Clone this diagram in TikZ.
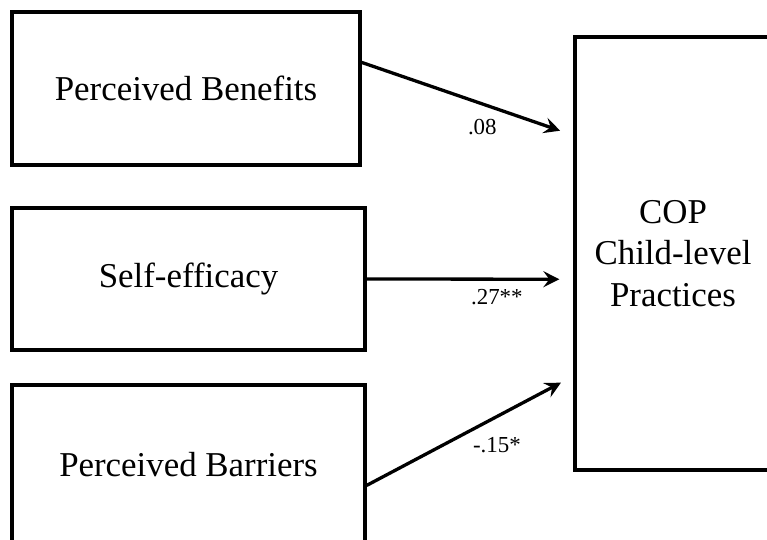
\documentclass[tikz,border=0pt]{standalone}
\usepackage{fontspec}
\setmainfont{Liberation Serif}
\usetikzlibrary{arrows.meta,calc}
\begin{document}
\begin{tikzpicture}[x=1bp, y=-1bp, line width=3.3bp,
  box/.style={draw, rectangle, inner sep=0pt, align=center, font=\fontsize{35}{42}\selectfont},
  link/.style={-{Stealth[length=16bp,width=16bp,inset=6bp]}, shorten >=14bp},
  coef/.style={font=\fontsize{23}{27}\selectfont}]
  \path[use as bounding box, clip] (0,0) rectangle (767,540);
  % predictor boxes
  \node[box, minimum width=348bp, minimum height=153bp] (ben) at (186,88.5) {Perceived Benefits};
  \node[box, minimum width=353bp, minimum height=142bp] (eff) at (188.5,279) {Self-efficacy};
  \node[box, minimum width=353bp, minimum height=160bp] (bar) at (188.5,465) {Perceived Barriers};
  % outcome box
  \node[box, minimum width=196bp, minimum height=433bp] (cop) at (673,253.5) {COP\\Child-level\\Practices};
  % paths with coefficients
  \foreach \a/\s/\t/\l/\p/\d in {ben/.333/.229/.08/.57/-23, eff/.5/.559/.27**/.63/-18, bar/.625/.781/-.15*/.63/-29}
    \draw[link] ($(\a.north east)!\s!(\a.south east)$) -- ($(cop.north west)!\t!(cop.south west)$)
      node[coef, pos=\p, yshift=\d bp] {\l};
\end{tikzpicture}
\end{document}
